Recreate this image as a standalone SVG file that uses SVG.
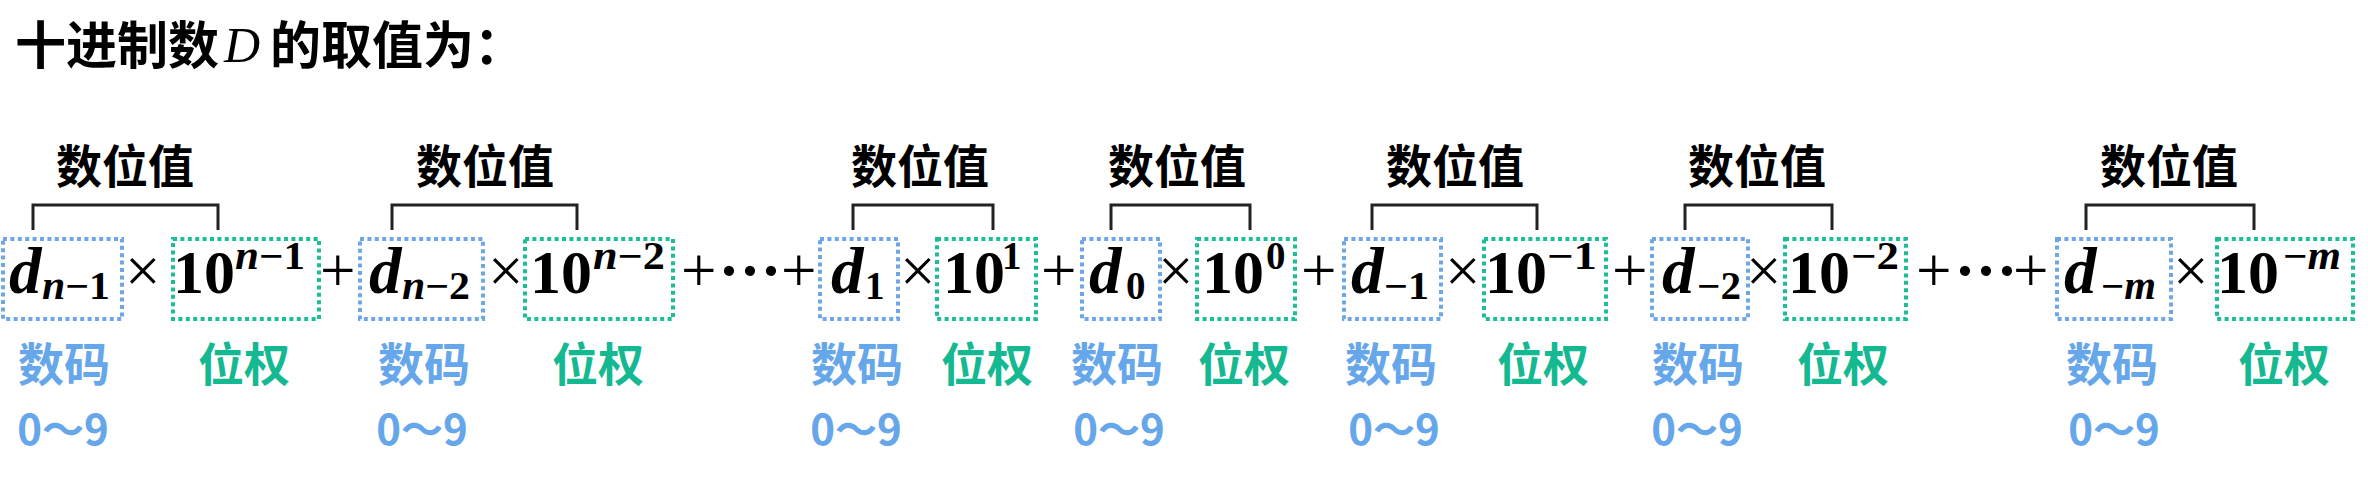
<svg xmlns="http://www.w3.org/2000/svg" width="2368" height="484" viewBox="0 0 2368 484">
<style>
.t{font-family:"Noto Sans CJK SC","Noto Sans CJK JP",sans-serif;font-weight:700}
.title{font-size:51px;fill:#000}
.lbl{font-size:46px;fill:#000;text-anchor:middle}
.code{font-size:46px;fill:#66A6EA;text-anchor:middle}
.wt{font-size:46px;fill:#14B991;text-anchor:middle}
.rng{font-family:"Noto Sans CJK SC",sans-serif;font-weight:700;font-size:42px;fill:#66A6EA;text-anchor:middle}
.m{font-family:"Liberation Serif",serif;font-weight:700;font-size:62px;fill:#000}
.d{font-size:65px;font-style:italic}
.i{font-style:italic}
.s{font-size:39px}
.op{font-family:"Liberation Serif",serif;font-weight:400;font-size:63px;fill:#000}
.dots{font-weight:700;text-anchor:middle}
.bb{fill:none;stroke:#6EA6E6;stroke-width:4;stroke-dasharray:4 3.4}
.gb{fill:none;stroke:#1BBE96;stroke-width:4;stroke-dasharray:4 3.4}
.br{fill:none;stroke:#222;stroke-width:3}
</style>
<rect width="2368" height="484" fill="#fff"/>
<g id="title">
<text class="t title" x="15" y="64">十进制数</text>
<text x="224" y="62" font-family="Liberation Serif, serif" font-style="italic" font-size="50">D</text>
<text class="t title" x="270" y="64">的取值为：</text>
</g>
<g id="connectors">
<path class="br" d="M33 230V205H218V230"/>
<path class="br" d="M392 230V205H577V230"/>
<path class="br" d="M853 230V205H993V230"/>
<path class="br" d="M1111 230V205H1250V230"/>
<path class="br" d="M1372 230V205H1537V230"/>
<path class="br" d="M1685 230V205H1832V230"/>
<path class="br" d="M2086 230V205H2254V230"/>
</g>
<g id="operators">
<text class="op" x="320" y="292">+</text>
<text class="op" x="681" y="292">+</text>
<text class="op dots" x="750" y="292">···</text>
<text class="op" x="781" y="292">+</text>
<text class="op" x="1041" y="292">+</text>
<text class="op" x="1301" y="292">+</text>
<text class="op" x="1612" y="292">+</text>
<text class="op" x="1916" y="292">+</text>
<text class="op dots" x="1986" y="292">···</text>
<text class="op" x="2013" y="292">+</text>
</g>
<g id="term1">
<text class="t lbl" x="125" y="183">数位值</text>
<rect class="bb" x="3" y="239" width="119" height="80"/>
<rect class="gb" x="173" y="239" width="146" height="80"/>
<text class="m d" x="9" y="293">d</text>
<text class="m s" x="42" y="299" textLength="68" lengthAdjust="spacingAndGlyphs"><tspan class="i">n</tspan>−1</text>
<text class="op" x="125" y="292">×</text>
<text class="m" x="173" y="293">10</text>
<text class="m s" x="235" y="269" textLength="70" lengthAdjust="spacingAndGlyphs"><tspan class="i">n</tspan>−1</text>
<text class="t code" x="64" y="381">数码</text>
<text class="t wt" x="244" y="381">位权</text>
<text class="rng" x="63" y="445">0～9</text>
</g>
<g id="term2">
<text class="t lbl" x="485" y="183">数位值</text>
<rect class="bb" x="360" y="239" width="123" height="80"/>
<rect class="gb" x="525" y="239" width="148" height="80"/>
<text class="m d" x="369" y="293">d</text>
<text class="m s" x="402" y="299" textLength="68" lengthAdjust="spacingAndGlyphs"><tspan class="i">n</tspan>−2</text>
<text class="op" x="488" y="292">×</text>
<text class="m" x="530" y="293">10</text>
<text class="m s" x="593" y="269" textLength="72" lengthAdjust="spacingAndGlyphs"><tspan class="i">n</tspan>−2</text>
<text class="t code" x="424" y="381">数码</text>
<text class="t wt" x="598" y="381">位权</text>
<text class="rng" x="422" y="445">0～9</text>
</g>
<g id="term3">
<text class="t lbl" x="920" y="183">数位值</text>
<rect class="bb" x="820" y="239" width="78" height="80"/>
<rect class="gb" x="937" y="239" width="99" height="80"/>
<text class="m d" x="831" y="293">d</text>
<text class="m s" x="865" y="299">1</text>
<text class="op" x="900" y="292">×</text>
<text class="m" x="943" y="293">10</text>
<text class="m s" x="1002" y="269">1</text>
<text class="t code" x="857" y="381">数码</text>
<text class="t wt" x="987" y="381">位权</text>
<text class="rng" x="856" y="445">0～9</text>
</g>
<g id="term4">
<text class="t lbl" x="1177" y="183">数位值</text>
<rect class="bb" x="1082" y="239" width="78" height="80"/>
<rect class="gb" x="1197" y="239" width="98" height="80"/>
<text class="m d" x="1089" y="293">d</text>
<text class="m s" x="1126" y="299">0</text>
<text class="op" x="1158" y="292">×</text>
<text class="m" x="1202" y="293">10</text>
<text class="m s" x="1266" y="269">0</text>
<text class="t code" x="1117" y="381">数码</text>
<text class="t wt" x="1244" y="381">位权</text>
<text class="rng" x="1119" y="445">0～9</text>
</g>
<g id="term5">
<text class="t lbl" x="1455" y="183">数位值</text>
<rect class="bb" x="1344" y="239" width="97" height="80"/>
<rect class="gb" x="1484" y="239" width="122" height="80"/>
<text class="m d" x="1351" y="293">d</text>
<text class="m s" x="1384" y="299" textLength="45" lengthAdjust="spacingAndGlyphs">−1</text>
<text class="op" x="1445" y="292">×</text>
<text class="m" x="1485" y="293">10</text>
<text class="m s" x="1547" y="269" textLength="50" lengthAdjust="spacingAndGlyphs">−1</text>
<text class="t code" x="1391" y="381">数码</text>
<text class="t wt" x="1543" y="381">位权</text>
<text class="rng" x="1394" y="445">0～9</text>
</g>
<g id="term6">
<text class="t lbl" x="1757" y="183">数位值</text>
<rect class="bb" x="1652" y="239" width="96" height="80"/>
<rect class="gb" x="1785" y="239" width="121" height="80"/>
<text class="m d" x="1662" y="293">d</text>
<text class="m s" x="1697" y="299" textLength="44" lengthAdjust="spacingAndGlyphs">−2</text>
<text class="op" x="1746" y="292">×</text>
<text class="m" x="1788" y="293">10</text>
<text class="m s" x="1851" y="269" textLength="48" lengthAdjust="spacingAndGlyphs">−2</text>
<text class="t code" x="1698" y="381">数码</text>
<text class="t wt" x="1843" y="381">位权</text>
<text class="rng" x="1697" y="445">0～9</text>
</g>
<g id="term7">
<text class="t lbl" x="2169" y="183">数位值</text>
<rect class="bb" x="2057" y="239" width="114" height="80"/>
<rect class="gb" x="2217" y="239" width="136" height="80"/>
<text class="m d" x="2064" y="293">d</text>
<text class="m s" x="2101" y="299" textLength="55" lengthAdjust="spacingAndGlyphs">−<tspan class="i">m</tspan></text>
<text class="op" x="2173" y="292">×</text>
<text class="m" x="2217" y="293">10</text>
<text class="m s" x="2283" y="269" textLength="58" lengthAdjust="spacingAndGlyphs">−<tspan class="i">m</tspan></text>
<text class="t code" x="2112" y="381">数码</text>
<text class="t wt" x="2284" y="381">位权</text>
<text class="rng" x="2114" y="445">0～9</text>
</g>
</svg>
